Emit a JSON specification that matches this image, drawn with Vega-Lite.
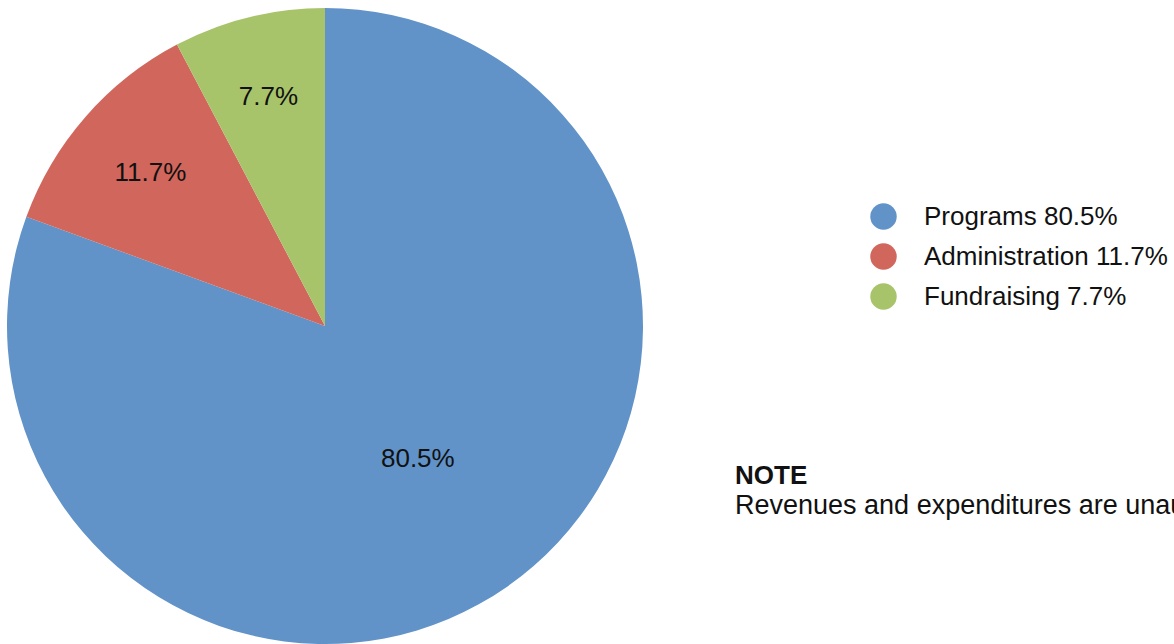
{
  "$schema": "https://vega.github.io/schema/vega-lite/v6.json",
  "width": 650,
  "height": 636,
  "autosize": {"type": "none"},
  "padding": {"left": 0, "top": 8, "right": 524, "bottom": 0},
  "background": "white",
  "config": {"view": {"stroke": null}, "font": "Liberation Sans"},
  "title": {
    "text": "NOTE",
    "subtitle": "Revenues and expenditures are unaudited.",
    "anchor": "start",
    "frame": "group",
    "orient": "top",
    "dx": 735,
    "dy": 511,
    "offset": 0,
    "font": "Liberation Sans",
    "fontSize": 26,
    "fontWeight": "bold",
    "color": "#111111",
    "subtitleFont": "Liberation Sans",
    "subtitleFontSize": 27,
    "subtitleColor": "#111111",
    "subtitlePadding": 4
  },
  "data": {
    "values": [
      {"category": "Programs", "label": "Programs 80.5%", "value": 80.5, "pct": "80.5%"},
      {"category": "Administration", "label": "Administration 11.7%", "value": 11.7, "pct": "11.7%"},
      {"category": "Fundraising", "label": "Fundraising 7.7%", "value": 7.7, "pct": "7.7%"}
    ]
  },
  "encoding": {
    "theta": {"field": "value", "type": "quantitative", "stack": true},
    "order": {"field": "value", "type": "quantitative", "sort": "descending"}
  },
  "layer": [
    {
      "mark": {"type": "arc", "outerRadius": 318},
      "encoding": {
        "color": {
          "field": "label",
          "type": "nominal",
          "scale": {
            "domain": ["Programs 80.5%", "Administration 11.7%", "Fundraising 7.7%"],
            "range": ["#6193C9", "#D0665C", "#A8C46A"]
          },
          "legend": {
            "title": null,
            "orient": "none",
            "legendX": 870,
            "legendY": 195,
            "symbolType": "circle",
            "symbolSize": 700,
            "symbolStrokeWidth": 0,
            "labelFontSize": 26,
            "labelFont": "Liberation Sans",
            "labelColor": "#111111",
            "labelOffset": 27,
            "labelLimit": 0,
            "rowPadding": 13
          }
        }
      }
    },
    {
      "mark": {"type": "text", "fontSize": 26, "color": "#111111"},
      "encoding": {
        "text": {"field": "pct", "type": "nominal"},
        "radius": {
          "field": "value",
          "type": "quantitative",
          "scale": {"type": "linear", "zero": false, "domain": [7.7, 80.5], "range": [236, 162]}
        }
      }
    }
  ]
}
